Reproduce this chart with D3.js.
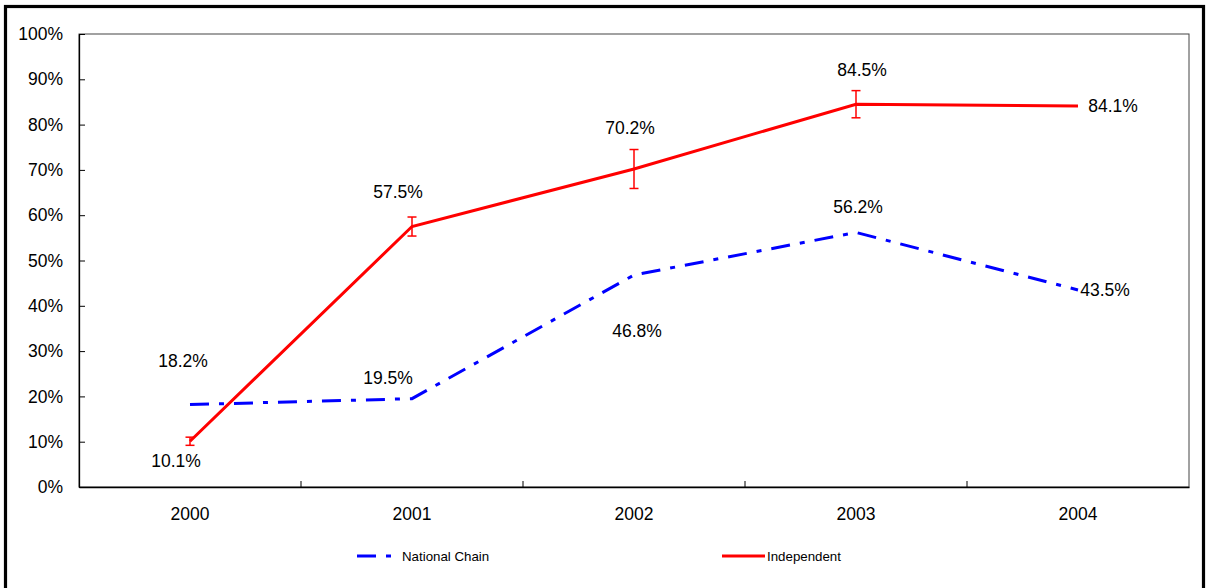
<!DOCTYPE html>
<html><head><meta charset="utf-8">
<script src="https://cdn.jsdelivr.net/npm/d3@7"></script>
<style>body{margin:0;background:#fff;}svg{display:block;font-family:Arial,"Liberation Sans",sans-serif;}</style>
</head><body>
<svg id="chart" width="1207" height="588"></svg>
<script>
const years = ["2000","2001","2002","2003","2004"];
const nationalChain = [18.2, 19.5, 46.8, 56.2, 43.5];
const independent = [10.1, 57.5, 70.2, 84.5, 84.1];
const independentErr = [0.9, 2.1, 4.3, 3.0, null];
const yTicks = [0,10,20,30,40,50,60,70,80,90,100];
const seriesNames = ["National Chain", "Independent"];

// label placements (style, not data)
const ncLabelOffset = [[-7,-44],[-24,-21],[3,56],[2,-25],[27,0]];
const indLabelOffset = [[-14,20],[-14,-35],[-4,-41],[6,-34],[35,0]];

const svg = d3.select("#chart");
const m = {left:79, right:1189, top:34, bottom:487};
const x = d3.scaleBand().domain(years).range([m.left, m.right]).padding(0);
const y = d3.scaleLinear().domain([0,100]).range([m.bottom, m.top]);
const cx = d => x(d) + x.bandwidth()/2;

// outer border
svg.append("rect").attr("x",5.5).attr("y",6.5).attr("width",1198).attr("height",600)
  .attr("fill","none").attr("stroke","#000").attr("stroke-width",3.2);

// plot frame
svg.append("rect").attr("x",m.left).attr("y",m.top).attr("width",m.right-m.left).attr("height",m.bottom-m.top)
  .attr("fill","none").attr("stroke","#444").attr("stroke-width",1);

// y axis
const yAxis = d3.axisLeft(y).tickValues(yTicks).tickFormat(d=>d+"%").tickSizeInner(-6).tickSizeOuter(0).tickPadding(16);
const gy = svg.append("g").attr("transform",`translate(${m.left},0)`).call(yAxis);
gy.select(".domain").attr("stroke","#000").attr("stroke-width",1.3);
gy.selectAll(".tick line").attr("stroke","#000");
gy.selectAll("text").attr("font-size","17.5px").attr("fill","#000").attr("font-family","Arial, 'Liberation Sans', sans-serif");

// x axis
const xAxis = d3.axisBottom(x).tickSize(0).tickPadding(21);
const gx = svg.append("g").attr("transform",`translate(0,${m.bottom})`).call(xAxis);
gx.select(".domain").attr("stroke","#000").attr("stroke-width",1.3);
gx.selectAll("text").attr("font-size","17.5px").attr("fill","#000").attr("font-family","Arial, 'Liberation Sans', sans-serif");
// category separator ticks
gx.selectAll(".sep").data(years.slice(1)).enter().append("line")
  .attr("x1",d=>x(d)).attr("x2",d=>x(d)).attr("y1",0).attr("y2",-6).attr("stroke","#000");

const line = d3.line().x((d,i)=>cx(years[i])).y(d=>y(d));

// National chain
svg.append("path").datum(nationalChain).attr("d",line).attr("fill","none")
  .attr("stroke","#0000FF").attr("stroke-width",3).attr("stroke-dasharray","19 10 5 10");

// Independent
svg.append("path").datum(independent).attr("d",line).attr("fill","none")
  .attr("stroke","#FF0000").attr("stroke-width",3);

// error bars
const eb = svg.append("g").attr("stroke","#FF0000").attr("stroke-width",1.5);
independent.forEach((v,i)=>{
  const e = independentErr[i];
  if(e==null) return;
  const xx = cx(years[i]);
  eb.append("line").attr("x1",xx).attr("x2",xx).attr("y1",y(v-e)).attr("y2",y(v+e));
  eb.append("line").attr("x1",xx-4.5).attr("x2",xx+4.5).attr("y1",y(v-e)).attr("y2",y(v-e));
  eb.append("line").attr("x1",xx-4.5).attr("x2",xx+4.5).attr("y1",y(v+e)).attr("y2",y(v+e));
});

// data labels
function labels(vals, offs){
  svg.append("g").selectAll("text").data(vals).enter().append("text")
    .attr("x",(d,i)=>cx(years[i])+offs[i][0])
    .attr("y",(d,i)=>y(d)+offs[i][1])
    .attr("text-anchor","middle").attr("dominant-baseline","central")
    .attr("font-size","17.5px").attr("fill","#000")
    .text(d=>d.toFixed(1)+"%");
}
labels(nationalChain, ncLabelOffset);
labels(independent, indLabelOffset);

// legend
const lg = svg.append("g");
lg.append("line").attr("x1",357).attr("x2",391).attr("y1",556).attr("y2",556)
  .attr("stroke","#0000FF").attr("stroke-width",3).attr("stroke-dasharray","19 10 5 10");
lg.append("text").attr("x",402).attr("y",556).attr("dominant-baseline","central")
  .attr("font-size","13.3px").attr("fill","#000").text(seriesNames[0]);
lg.append("line").attr("x1",722).attr("x2",765).attr("y1",556).attr("y2",556)
  .attr("stroke","#FF0000").attr("stroke-width",3);
lg.append("text").attr("x",767).attr("y",556).attr("dominant-baseline","central")
  .attr("font-size","13.3px").attr("fill","#000").text(seriesNames[1]);
</script>
</body></html>
